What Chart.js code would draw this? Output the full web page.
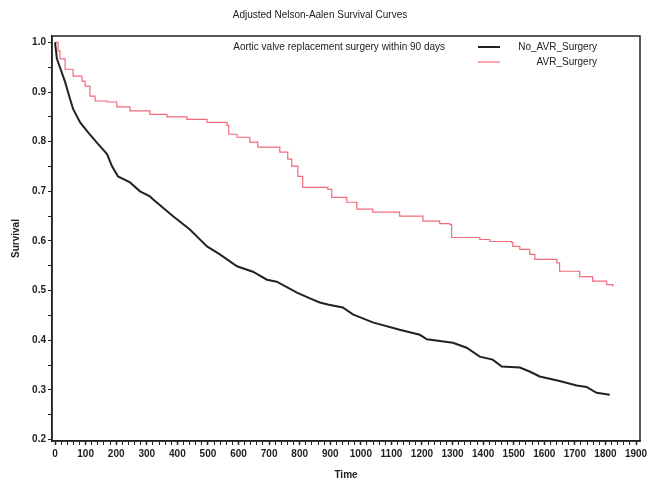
<!DOCTYPE html>
<html>
<head>
<meta charset="utf-8">
<script src="https://cdn.jsdelivr.net/npm/chart.js@4"></script>
<style>
  html, body { margin: 0; padding: 0; background: #fff; }
  #wrap { width: 653px; height: 479px; }
</style>
</head>
<body>
<div id="wrap"><canvas id="survival"></canvas></div>
<script>
// values
var noAvrTime = [0, 6, 16, 33, 49, 59, 82, 108, 141, 170, 186, 206, 245, 278, 310, 320, 386, 441, 497, 539, 595, 647, 693, 725, 791, 843, 866, 892, 941, 974, 1039, 1127, 1193, 1216, 1301, 1346, 1389, 1431, 1461, 1520, 1552, 1585, 1650, 1706, 1738, 1771, 1814];
var noAvrSurv = [1.0, 0.967, 0.950, 0.920, 0.886, 0.866, 0.839, 0.819, 0.795, 0.775, 0.751, 0.730, 0.718, 0.700, 0.690, 0.684, 0.650, 0.623, 0.589, 0.573, 0.549, 0.538, 0.522, 0.518, 0.496, 0.482, 0.476, 0.472, 0.466, 0.452, 0.436, 0.421, 0.411, 0.402, 0.395, 0.385, 0.367, 0.361, 0.347, 0.345, 0.337, 0.327, 0.318, 0.309, 0.306, 0.294, 0.290];

var avrTime = [0, 10, 16, 33, 59, 88, 98, 114, 131, 170, 202, 245, 310, 366, 431, 497, 562, 568, 595, 637, 663, 735, 761, 774, 794, 810, 892, 905, 954, 987, 1039, 1127, 1203, 1258, 1291, 1297, 1389, 1422, 1493, 1497, 1520, 1552, 1569, 1641, 1650, 1716, 1758, 1804, 1824];
var avrSurv = [1.0, 0.983, 0.967, 0.946, 0.932, 0.922, 0.912, 0.892, 0.882, 0.880, 0.870, 0.862, 0.855, 0.850, 0.845, 0.839, 0.833, 0.815, 0.809, 0.799, 0.789, 0.779, 0.765, 0.751, 0.730, 0.708, 0.704, 0.688, 0.678, 0.664, 0.658, 0.650, 0.640, 0.635, 0.633, 0.607, 0.603, 0.599, 0.597, 0.589, 0.583, 0.573, 0.563, 0.556, 0.539, 0.528, 0.519, 0.512, 0.508];

var xTicks = [0, 100, 200, 300, 400, 500, 600, 700, 800, 900, 1000, 1100, 1200, 1300, 1400, 1500, 1600, 1700, 1800, 1900];
var yTicks = [0.2, 0.3, 0.4, 0.5, 0.6, 0.7, 0.8, 0.9, 1.0];

var legendTitle = 'Aortic valve replacement surgery within 90 days';

function toPoints(xs, ys) {
    return xs.map(function (x, i) { return { x: x, y: ys[i] }; });
}

Chart.defaults.font.family = '"Liberation Sans", Arial, sans-serif';
Chart.defaults.color = '#222';

// frame round the plot + the legend block inside it
var framePlugin = {
    id: 'frame',
    afterDraw: function (chart) {
        var c = chart.ctx, a = chart.chartArea;
        c.save();
        c.strokeStyle = '#222';
        c.lineWidth = 1.5;
        c.strokeRect(a.left, a.top, a.right - a.left, a.bottom - a.top);

        c.font = '10px "Liberation Sans", Arial, sans-serif';
        c.fillStyle = '#222';
        c.textBaseline = 'middle';
        c.textAlign = 'right';
        c.fillText(legendTitle, a.right - 195, a.top + 11);

        var ds = chart.data.datasets;
        ds.forEach(function (d, i) {
            var y = a.top + 11 + i * 15;
            c.strokeStyle = d.borderColor;
            c.lineWidth = d.borderWidth;
            c.beginPath();
            c.moveTo(a.right - 162, y);
            c.lineTo(a.right - 140, y);
            c.stroke();
            c.fillStyle = '#222';
            c.textAlign = 'right';
            c.fillText(d.label, a.right - 43, y);
        });
        c.restore();
    }
};

var ctx = document.getElementById('survival');
var myChart = new Chart(ctx, {
    type: 'line',
    data: {
        datasets: [
            {
                label: 'No_AVR_Surgery',
                data: toPoints(noAvrTime, noAvrSurv),
                borderColor: '#222222',
                backgroundColor: '#222222',
                borderWidth: 2,
                pointRadius: 0,
                tension: 0
            },
            {
                label: 'AVR_Surgery',
                data: toPoints(avrTime, avrSurv),
                borderColor: '#f26b7a',
                backgroundColor: '#f26b7a',
                borderWidth: 1.2,
                pointRadius: 0,
                stepped: true
            }
        ]
    },
    options: {
        responsive: true,
        maintainAspectRatio: false,
        animation: false,
        layout: {
            padding: { left: 0, right: 13, top: 0, bottom: 0 }
        },
        plugins: {
            legend: { display: false },
            tooltip: { enabled: false },
            title: {
                display: true,
                text: 'Adjusted Nelson-Aalen Survival Curves',
                font: { size: 10, weight: 'normal' },
                padding: { top: 9, bottom: 15 }
            }
        },
        scales: {
            x: {
                type: 'linear',
                min: -10,
                max: 1913,
                afterBuildTicks: function (scale) {
                    var t = [];
                    for (var v = 0; v <= 1900; v += 20) t.push({ value: v });
                    scale.ticks = t;
                },
                afterFit: function (scale) { scale.height = 38; },
                ticks: {
                    autoSkip: false,
                    maxRotation: 0,
                    padding: 3,
                    font: { size: 10, weight: 'bold' },
                    callback: function (value) {
                        return xTicks.indexOf(value) >= 0 ? String(value) : '';
                    }
                },
                grid: {
                    drawOnChartArea: false,
                    tickLength: 4,
                    color: '#222',
                    tickWidth: function (c) {
                        return xTicks.indexOf(c.tick.value) >= 0 ? 1.5 : 1;
                    }
                },
                border: { display: true, color: '#222', width: 1.5 },
                title: {
                    display: true,
                    text: 'Time',
                    font: { size: 10, weight: 'bold' },
                    padding: { top: 0, bottom: -2 }
                }
            },
            y: {
                min: 0.197,
                max: 1.013,
                afterBuildTicks: function (scale) {
                    var t = [];
                    for (var v = 20; v <= 100; v += 5) t.push({ value: v / 100 });
                    scale.ticks = t;
                },
                afterFit: function (scale) { scale.width = 52; },
                ticks: {
                    autoSkip: false,
                    padding: 2,
                    font: { size: 10, weight: 'bold' },
                    callback: function (value) {
                        var hit = yTicks.some(function (y) { return Math.abs(y - value) < 1e-6; });
                        return hit ? value.toFixed(1) : '';
                    }
                },
                grid: {
                    drawOnChartArea: false,
                    tickLength: 4,
                    color: '#222'
                },
                border: { display: true, color: '#222', width: 1.5 },
                title: {
                    display: true,
                    text: 'Survival',
                    font: { size: 10, weight: 'bold' },
                    padding: { top: 10, bottom: 2 }
                }
            }
        }
    },
    plugins: [framePlugin]
});
</script>
</body>
</html>
